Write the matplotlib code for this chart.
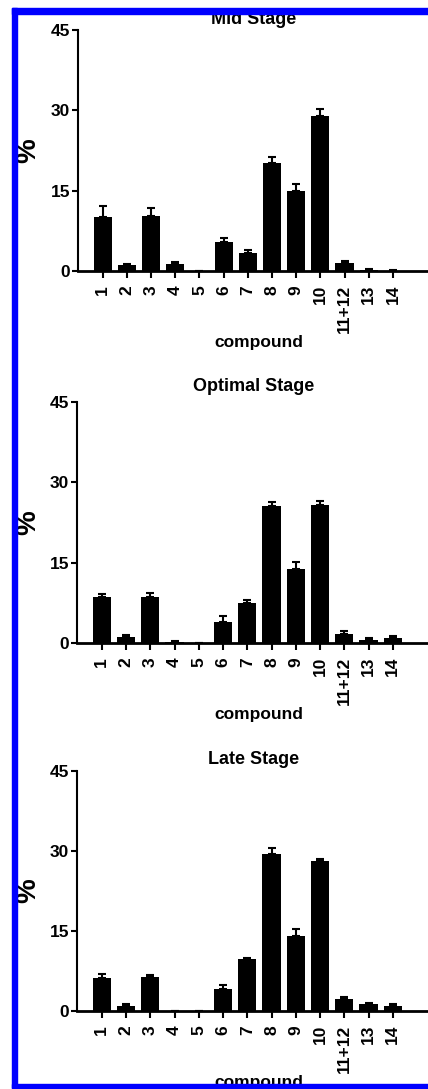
import matplotlib.pyplot as plt
from matplotlib.patches import Rectangle

plt.rcParams['font.family'] = ['Liberation Sans', 'DejaVu Sans']
plt.rcParams['font.weight'] = 'bold'

compounds = ['1', '2', '3', '4', '5', '6', '7', '8', '9', '10', '11+12', '13', '14']

stages = ['Mid Stage', 'Optimal Stage', 'Late Stage']

mid_vals = [10.1, 1.1, 10.3, 1.3, 0.0, 5.5, 3.4, 20.1, 14.9, 29.0, 1.5, 0.1, 0.05]
mid_err = [2.0, 0.3, 1.4, 0.4, 0.0, 0.6, 0.5, 1.2, 1.3, 1.3, 0.4, 0.2, 0.15]

opt_vals = [8.5, 1.2, 8.5, 0.1, 0.0, 4.0, 7.5, 25.5, 13.9, 25.8, 1.7, 0.6, 1.0]
opt_err = [0.6, 0.3, 0.8, 0.2, 0.0, 1.0, 0.6, 0.9, 1.2, 0.8, 0.6, 0.3, 0.3]

late_vals = [6.1, 1.0, 6.4, 0.05, 0.05, 4.1, 9.8, 29.5, 14.1, 28.2, 2.2, 1.25, 1.0]
late_err = [0.8, 0.25, 0.4, 0.0, 0.0, 0.8, 0.2, 1.0, 1.2, 0.3, 0.5, 0.25, 0.25]

W, H = 428, 1089
fig = plt.figure(figsize=(W / 100, H / 100), dpi=100)

# axes layout in pixels: (left, top, bottom)
panels = [(78, 30, 271), (77, 402, 643), (77, 771, 1011)]
title_y = [20, 387, 759]
data = [(mid_vals, mid_err), (opt_vals, opt_err), (late_vals, late_err)]

for i, (left, top, bot) in enumerate(panels):
    ax = fig.add_axes([left / W, (H - bot) / H, (W - left) / W, (bot - top) / H])
    vals, err = data[i]
    x = list(range(len(vals)))
    ax.bar(x, vals, width=0.75, color='black')
    ax.errorbar(x, vals, yerr=[[0] * len(err), err], fmt='none',
                ecolor='black', elinewidth=1.5, capsize=3, capthick=1.5)
    ax.set_xlim(-1.02, 13.45)
    ax.set_ylim(0, 45)
    ax.set_yticks([0, 15, 30, 45])
    ax.set_xticks(x)
    ax.set_xticklabels(compounds, rotation=90, fontsize=12.5, fontweight='bold')
    for lab in ax.get_yticklabels():
        lab.set_fontsize(12.5)
        lab.set_fontweight('bold')
    ax.spines['top'].set_visible(False)
    ax.spines['right'].set_visible(False)
    ax.spines['left'].set_linewidth(1.5)
    ax.spines['bottom'].set_linewidth(2)
    ax.tick_params(axis='y', direction='out', length=4, width=1.5, pad=1.5)
    ax.tick_params(axis='x', direction='out', length=5, width=1.5, pad=5)
    ax.patch.set_alpha(0)

    mid = (top + bot) / 2
    fig.text(28 / W, 1 - mid / H, '%', rotation=90, ha='center', va='center',
             fontsize=20, fontweight='bold')
    fig.text(254 / W, 1 - title_y[i] / H, stages[i], ha='center', va='center',
             fontsize=13, fontweight='bold')
    fig.text(259 / W, 1 - (bot + 72) / H, 'compound', ha='center', va='center',
             fontsize=12.5, fontweight='bold')

# blue frame
blue = (0, 0, 1)
fig.add_artist(Rectangle((12 / W, 1 - 14 / H), 416 / W, 6 / H,
                         transform=fig.transFigure, color=blue, zorder=10))
fig.add_artist(Rectangle((12 / W, 1 / H), 4.5 / W, (H - 9) / H,
                         transform=fig.transFigure, color=blue, zorder=10))
fig.add_artist(Rectangle((12 / W, 1 / H), 416 / W, 4 / H,
                         transform=fig.transFigure, color=blue, zorder=10))

fig.savefig('out.png', dpi=100)
